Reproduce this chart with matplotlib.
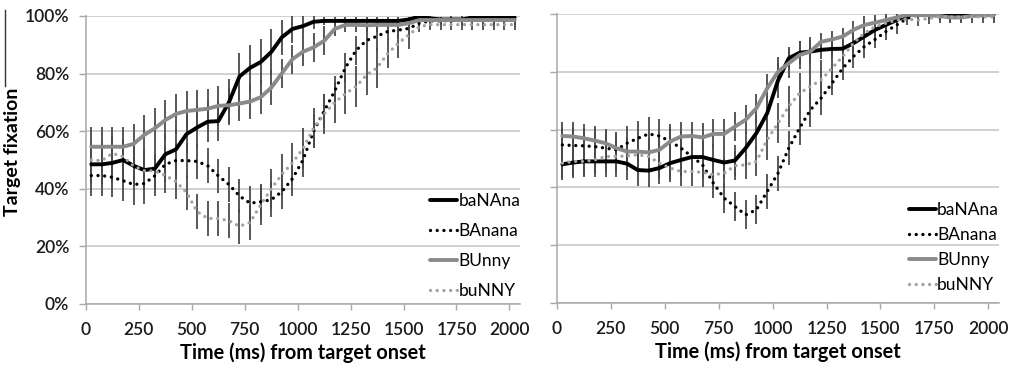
import numpy as np
import matplotlib
matplotlib.use("Agg")
import matplotlib.pyplot as plt
from matplotlib.lines import Line2D

plt.rcParams['font.family'] = ['Lato', 'DejaVu Sans']

# time bins (ms), one every 50 ms
t = np.arange(25, 2026, 50)

labels = ["baNAna", "BAnana", "BUnny", "buNNY"]

# left panel
L_baNAna = [48.5, 48.5, 49, 50, 48, 46.5, 47, 52, 53.7, 59, 61.3, 63.3, 63.5, 70, 79, 82, 84, 87.5,
            92.6, 95.5, 96.5, 98, 98.3, 98.3, 98.3, 98.3, 98.3, 98.3, 98.3, 98.3, 98.8, 99.8, 99.2,
            98.8, 98.8, 98.8, 99.5, 99.5, 99.5, 99.5, 99.5]
L_BAnana = [44.6, 44.6, 44, 42.8, 41.5, 41.8, 44.5, 48.5, 49.8, 49.8, 49.5, 48, 44.5, 41.5, 37.5, 35,
            35.5, 36.2, 39, 43.5, 50, 60, 67, 74, 82, 88, 91.5, 93, 94.6, 95.1, 95.7, 97.5, 98.3,
            98.3, 98.4, 98.4, 98.5, 98.5, 98.5, 98.5, 98.5]
L_BUnny = [54.6, 54.6, 54.6, 54.6, 55.6, 58.7, 61, 63.9, 66, 67, 67.4, 67.8, 68.8, 69, 69.6, 70.3, 71.8,
           75.1, 80.1, 85, 87.6, 89.1, 91.4, 95.5, 96.9, 96.9, 96.8, 96.9, 96.9, 96.9, 97.5, 98.6,
           98.6, 98.6, 98.6, 98.6, 98.6, 98.6, 98.6, 98.6, 98.6]
L_buNNY = [50, 49.8, 52.3, 51.2, 47.9, 46.3, 46.2, 44.6, 42.5, 38.7, 32.1, 29.7, 29.7, 28.9, 27, 28.3,
           34.4, 40, 45, 49, 54, 61, 66, 70, 73, 75.5, 79.5, 82, 87, 90.5, 93.5, 96.3, 97, 97, 97,
           97, 97, 97, 97, 97, 97]

L_err_baNAna = [7, 7, 7, 7, 7, 7, 7, 7, 7, 7, 7, 7, 7, 8, 8, 8, 8, 8, 6, 5, 4, 2.5, 1.5, 1.5, 1.5, 1.5,
                1.5, 1.5, 1.5, 1.5, 1, 1, 1, 1, 1, 1, 1, 1, 1, 1, 1]
L_err_BAnana = [7, 7, 7, 7, 7, 7, 7, 6, 6, 6, 6, 6, 6, 6, 6, 6, 6, 6, 6, 6, 6, 6, 6, 5, 5, 5, 5, 5, 3,
                3, 3, 1.5, 1.5, 1.5, 1.5, 1.5, 1.5, 1.5, 1.5, 1.5, 1.5]
L_err_BUnny = [7, 7, 7, 7, 7, 7, 7, 7, 7, 7, 7, 7, 7, 6, 6, 6, 6, 6, 5, 5, 5, 5, 5, 2.5, 2.5, 2.5, 2.5,
               2.5, 1, 1, 1, 1, 1, 1, 1, 1, 1, 1, 1, 1, 1]
L_err_buNNY = [6, 6, 6, 6, 6, 6, 6, 6, 6, 6, 6, 6, 6, 6, 6, 6, 7, 7, 7, 7, 7, 7, 7, 7, 7, 7, 7, 7, 5, 5,
               5, 2, 2, 2, 2, 2, 2, 2, 2, 2, 2]

# right panel
R_baNAna = [48, 48.6, 49, 49, 49, 49, 48.2, 46, 45.8, 46.7, 48.4, 49.5, 50.5, 50.5, 49.5, 48.6, 49.3,
            53.6, 58.8, 65.7, 77, 84.7, 86.6, 87, 87.6, 87.9, 88, 89.9, 92.2, 94.5, 96.2, 97.9, 99.7,
            99.8, 99.8, 99.8, 99.8, 99.8, 99.8, 99.8, 99.8]
R_BAnana = [54.7, 54.5, 54.4, 54.1, 53.6, 53, 55.3, 57, 58.5, 57.8, 55.9, 53.6, 50.7, 47.8, 41.5, 36.3,
            33.4, 30.5, 32.3, 38.6, 44.9, 53.6, 60.5, 66.8, 70.9, 76, 81.2, 85.3, 88.7, 91.2, 93.9,
            96.2, 98.5, 99.7, 99.7, 99.7, 99.7, 99.7, 99.7, 99.7, 99.7]
R_BUnny = [57.8, 57.6, 57, 56.2, 55.3, 53.6, 52.4, 52.4, 52.1, 53, 55.9, 57.6, 57.8, 57.3, 58.5, 58.5,
           61, 63.4, 67.4, 74.3, 80, 83, 85.8, 87, 90.4, 91.2, 92.2, 94.5, 96.2, 97, 97.9, 98.8, 99.7,
           99.6, 99.6, 99.3, 98.8, 98.8, 99.3, 99.6, 99.6]
R_buNNY = [48.4, 49, 49, 49.5, 50.7, 50.7, 50.9, 51.3, 50.7, 48.4, 46.7, 45.5, 45.5, 45.2, 44.4, 44.9,
           47.5, 47.8, 49, 56.5, 62.2, 68, 72.6, 74.9, 77.2, 81.2, 85.3, 89.9, 93.3, 95.6, 96.8, 97.9,
           98.2, 97.9, 98.5, 99, 99, 99, 99, 99, 99]

R_err_baNAna = [5.5, 5.5, 5.5, 5.5, 5.5, 5.5, 5.5, 5.5, 5.5, 5.5, 5.5, 5.5, 5.5, 5.5, 5.5, 5.5, 5.5, 6,
                6, 6, 6, 4, 4, 4, 3, 3, 3, 3, 3, 2, 2, 2, 1, 1, 1, 1, 1, 1, 1, 1, 1]
R_err_BAnana = [6, 6, 6, 6, 6, 6, 6, 6, 6, 6, 6, 6, 6, 5, 5, 5, 5, 5, 5, 6, 6, 6, 6, 6, 6, 4, 4, 4, 4,
                3, 3, 3, 1, 1, 1, 1, 1, 1, 1, 1, 1]
R_err_BUnny = [5, 5, 5, 5, 5, 5, 5, 5, 5, 5, 5, 5, 5, 5, 5, 5, 5, 5, 5, 5, 5, 5, 5, 5, 3, 3, 3, 3, 3,
               1.5, 1.5, 1.5, 1.5, 1.5, 1.5, 1.5, 1.5, 1.5, 1.5, 1.5, 1.5]
R_err_buNNY = [5, 5, 5, 5, 5, 5, 5, 5, 5, 5, 5, 5, 5, 5, 5, 5, 5, 5, 5, 7, 7, 7, 7, 7, 7, 7, 4, 4, 4,
               4, 4, 2, 2, 2, 2, 2, 2, 2, 2, 2, 2]

colors = ["#000000", "#000000", "#8a8a8a", "#a2a2a2"]
dotted = (0, (0.01, 2.0))
styles = ["-", dotted, "-", dotted]
widths = [2.8, 2.4, 2.8, 2.4]
grid_c = "#c4c4c4"

fig = plt.figure(figsize=(10.19, 3.66), dpi=100)
axL = fig.add_axes([86 / 1019, 62 / 366, 434 / 1019, 288 / 366])
axR = fig.add_axes([557 / 1019, 63 / 366, 442 / 1019, 289 / 366])


def draw_panel(ax, series, errs, leg_xy, leg_space, ylabels):
    for y, e in zip(series, errs):
        ax.errorbar(t, y, yerr=e, fmt='none', ecolor="#4a4a4a", elinewidth=1.3,
                    capsize=0, zorder=2)
    for y, c, ls, lw, lab in zip(series, colors, styles, widths, labels):
        ax.plot(t, y, color=c, linestyle=ls, linewidth=lw, label=lab,
                solid_capstyle='round', dash_capstyle='round', zorder=3)
    ax.set_xlim(0, 2050)
    ax.set_ylim(0, 100)
    ax.set_yticks(np.arange(0, 101, 20))
    ax.set_xticks(np.arange(0, 2001, 250))
    ax.yaxis.grid(True, color=grid_c, linewidth=1.1)
    ax.set_axisbelow(True)
    for s in ['top', 'right']:
        ax.spines[s].set_visible(False)
    for s in ['left', 'bottom']:
        ax.spines[s].set_color("#a8a8a8")
        ax.spines[s].set_linewidth(1.1)
    ax.tick_params(axis='x', length=4, width=1, color="#a8a8a8", pad=9,
                   labelsize=12.5, labelcolor="#1a1a1a")
    ax.tick_params(axis='y', length=5, width=1, color="#a8a8a8", pad=7,
                   labelsize=12.5, labelcolor="#1a1a1a")
    for lab in ax.get_xticklabels() + ax.get_yticklabels():
        lab.set_fontweight('semibold')
    if ylabels:
        ax.set_yticklabels([f"{v}%" for v in range(0, 101, 20)], fontweight='semibold')
    else:
        ax.set_yticklabels([])
    ax.set_xlabel("Time (ms) from target onset", fontsize=14.3, fontweight='bold',
                  labelpad=3)
    ax.legend(loc='upper left', bbox_to_anchor=leg_xy, frameon=False, fontsize=12.5,
              handlelength=1.55, handletextpad=0.08, labelspacing=leg_space,
              borderpad=0, borderaxespad=0)


draw_panel(axL, [L_baNAna, L_BAnana, L_BUnny, L_buNNY],
           [L_err_baNAna, L_err_BAnana, L_err_BUnny, L_err_buNNY],
           (0.793, 0.385), 0.8, True)
draw_panel(axR, [R_baNAna, R_BAnana, R_BUnny, R_buNNY],
           [R_err_baNAna, R_err_BAnana, R_err_BUnny, R_err_buNNY],
           (0.796, 0.349), 0.52, False)

fig.text(13 / 1019, 1 - 152 / 366, "Target fixation", rotation=90, ha='center',
         va='center', fontsize=14, fontweight='bold')
fig.add_artist(Line2D([5 / 1019, 5 / 1019], [1 - 10 / 366, 1 - 86 / 366],
                      color="#333333", linewidth=1, transform=fig.transFigure))

fig.savefig("out.png", dpi=100)
